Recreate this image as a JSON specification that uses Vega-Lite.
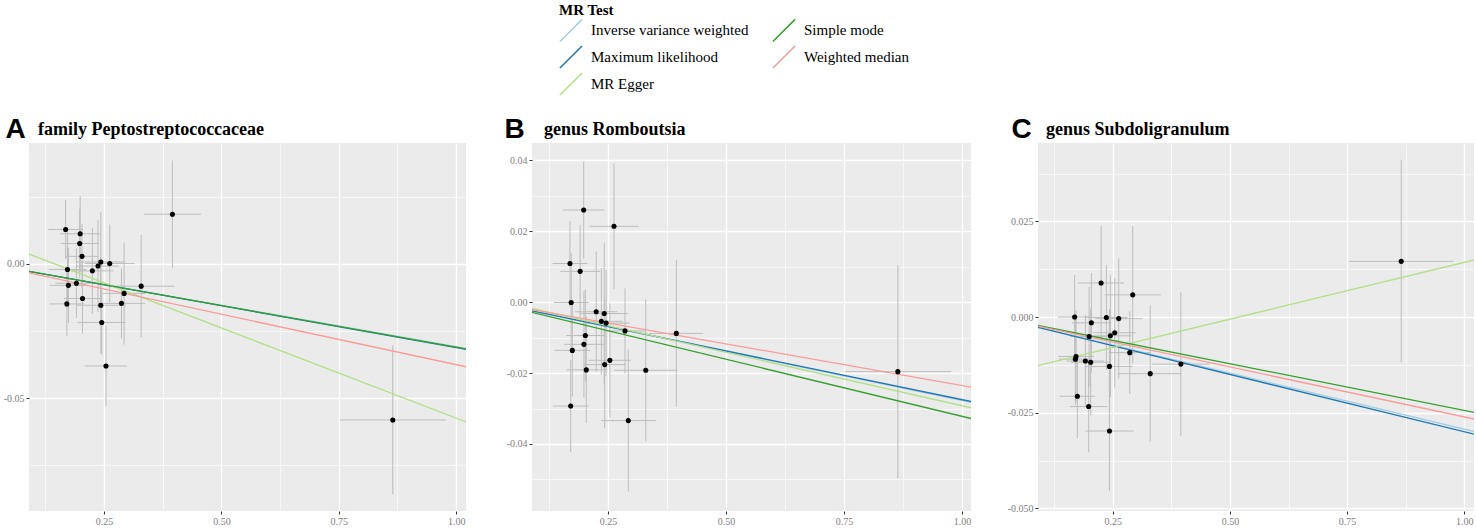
{
  "$schema": "https://vega.github.io/schema/vega-lite/v6.json",
  "padding": {"left": 3, "top": 3, "right": 0, "bottom": 0},
  "spacing": 38,
  "datasets": {
    "a_pts": [
      {"x": 0.168, "y": 0.0128, "xlo": 0.131, "xhi": 0.205, "ylo": 0.0018, "yhi": 0.0238},
      {"x": 0.199, "y": 0.0112, "xlo": 0.156, "xhi": 0.242, "ylo": -0.0028, "yhi": 0.0252},
      {"x": 0.198, "y": 0.0076, "xlo": 0.158, "xhi": 0.238, "ylo": -0.0054, "yhi": 0.0206},
      {"x": 0.203, "y": 0.0028, "xlo": 0.168, "xhi": 0.238, "ylo": -0.0092, "yhi": 0.0148},
      {"x": 0.243, "y": 0.0007, "xlo": 0.191, "xhi": 0.295, "ylo": -0.0179, "yhi": 0.0193},
      {"x": 0.237, "y": -0.0008, "xlo": 0.192, "xhi": 0.282, "ylo": -0.0178, "yhi": 0.0162},
      {"x": 0.262, "y": 0.0001, "xlo": 0.209, "xhi": 0.315, "ylo": -0.0144, "yhi": 0.0146},
      {"x": 0.225, "y": -0.0026, "xlo": 0.18, "xhi": 0.27, "ylo": -0.0186, "yhi": 0.0134},
      {"x": 0.172, "y": -0.0021, "xlo": 0.132, "xhi": 0.212, "ylo": -0.0161, "yhi": 0.0119},
      {"x": 0.174, "y": -0.008, "xlo": 0.134, "xhi": 0.214, "ylo": -0.022, "yhi": 0.006},
      {"x": 0.191, "y": -0.0072, "xlo": 0.146, "xhi": 0.236, "ylo": -0.0202, "yhi": 0.0058},
      {"x": 0.204, "y": -0.0129, "xlo": 0.164, "xhi": 0.244, "ylo": -0.0259, "yhi": 0.0001},
      {"x": 0.1706, "y": -0.0149, "xlo": 0.1336, "xhi": 0.2076, "ylo": -0.0269, "yhi": -0.0029},
      {"x": 0.243, "y": -0.0154, "xlo": 0.19, "xhi": 0.296, "ylo": -0.0334, "yhi": 0.0026},
      {"x": 0.287, "y": -0.0147, "xlo": 0.237, "xhi": 0.337, "ylo": -0.0277, "yhi": -0.0017},
      {"x": 0.2926, "y": -0.011, "xlo": 0.2476, "xhi": 0.3376, "ylo": -0.03, "yhi": 0.008},
      {"x": 0.329, "y": -0.0083, "xlo": 0.258, "xhi": 0.4, "ylo": -0.0273, "yhi": 0.0107},
      {"x": 0.245, "y": -0.0218, "xlo": 0.194, "xhi": 0.296, "ylo": -0.0338, "yhi": -0.0098},
      {"x": 0.254, "y": -0.038, "xlo": 0.209, "xhi": 0.299, "ylo": -0.053, "yhi": -0.023},
      {"x": 0.3955, "y": 0.0185, "xlo": 0.3345, "xhi": 0.4565, "ylo": -0.0015, "yhi": 0.0385},
      {"x": 0.865, "y": -0.0581, "xlo": 0.752, "xhi": 0.978, "ylo": -0.0858, "yhi": -0.0304}
    ],
    "b_pts": [
      {"x": 0.1985, "y": 0.026, "xlo": 0.1545, "xhi": 0.2425, "ylo": 0.0123, "yhi": 0.0397},
      {"x": 0.2627, "y": 0.0214, "xlo": 0.2107, "xhi": 0.3147, "ylo": 0.0037, "yhi": 0.0391},
      {"x": 0.1695, "y": 0.0109, "xlo": 0.1325, "xhi": 0.2065, "ylo": -0.0011, "yhi": 0.0229},
      {"x": 0.191, "y": 0.0087, "xlo": 0.149, "xhi": 0.233, "ylo": -0.0043, "yhi": 0.0217},
      {"x": 0.172, "y": -0.0001, "xlo": 0.135, "xhi": 0.209, "ylo": -0.0141, "yhi": 0.0139},
      {"x": 0.225, "y": -0.0027, "xlo": 0.18, "xhi": 0.27, "ylo": -0.0197, "yhi": 0.0143},
      {"x": 0.242, "y": -0.0032, "xlo": 0.192, "xhi": 0.292, "ylo": -0.0232, "yhi": 0.0168},
      {"x": 0.236, "y": -0.0054, "xlo": 0.191, "xhi": 0.281, "ylo": -0.0204, "yhi": 0.0096},
      {"x": 0.246, "y": -0.0059, "xlo": 0.196, "xhi": 0.296, "ylo": -0.0209, "yhi": 0.0091},
      {"x": 0.286, "y": -0.0081, "xlo": 0.241, "xhi": 0.331, "ylo": -0.0201, "yhi": 0.0039},
      {"x": 0.3947, "y": -0.0088, "xlo": 0.3377, "xhi": 0.4517, "ylo": -0.0295, "yhi": 0.0119},
      {"x": 0.202, "y": -0.0094, "xlo": 0.162, "xhi": 0.242, "ylo": -0.0224, "yhi": 0.0036},
      {"x": 0.199, "y": -0.0119, "xlo": 0.157, "xhi": 0.241, "ylo": -0.0269, "yhi": 0.0031},
      {"x": 0.1744, "y": -0.0136, "xlo": 0.1364, "xhi": 0.2124, "ylo": -0.0266, "yhi": -0.0006},
      {"x": 0.254, "y": -0.0164, "xlo": 0.209, "xhi": 0.299, "ylo": -0.0324, "yhi": -0.0004},
      {"x": 0.243, "y": -0.0176, "xlo": 0.198, "xhi": 0.288, "ylo": -0.0356, "yhi": 0.0004},
      {"x": 0.204, "y": -0.0191, "xlo": 0.162, "xhi": 0.246, "ylo": -0.0341, "yhi": -0.0041},
      {"x": 0.33, "y": -0.0192, "xlo": 0.263, "xhi": 0.397, "ylo": -0.0392, "yhi": 0.0008},
      {"x": 0.171, "y": -0.0293, "xlo": 0.133, "xhi": 0.209, "ylo": -0.0423, "yhi": -0.0163},
      {"x": 0.293, "y": -0.0334, "xlo": 0.235, "xhi": 0.351, "ylo": -0.0534, "yhi": -0.0134},
      {"x": 0.864, "y": -0.0196, "xlo": 0.751, "xhi": 0.977, "ylo": -0.0496, "yhi": 0.0104}
    ],
    "c_pts": [
      {"x": 0.2252, "y": 0.0089, "xlo": 0.1762, "xhi": 0.2742, "ylo": -0.0061, "yhi": 0.0239},
      {"x": 0.2927, "y": 0.0058, "xlo": 0.2327, "xhi": 0.3527, "ylo": -0.0122, "yhi": 0.0238},
      {"x": 0.1688, "y": 0.0, "xlo": 0.1328, "xhi": 0.2048, "ylo": -0.011, "yhi": 0.011},
      {"x": 0.2365, "y": -0.0001, "xlo": 0.1915, "xhi": 0.2815, "ylo": -0.0138, "yhi": 0.0136},
      {"x": 0.2628, "y": -0.0004, "xlo": 0.2128, "xhi": 0.3128, "ylo": -0.0161, "yhi": 0.0153},
      {"x": 0.2045, "y": -0.0015, "xlo": 0.1625, "xhi": 0.2465, "ylo": -0.0145, "yhi": 0.0115},
      {"x": 0.2543, "y": -0.0041, "xlo": 0.2093, "xhi": 0.2993, "ylo": -0.0184, "yhi": 0.0102},
      {"x": 0.245, "y": -0.0049, "xlo": 0.2, "xhi": 0.29, "ylo": -0.0209, "yhi": 0.0111},
      {"x": 0.1996, "y": -0.0051, "xlo": 0.1596, "xhi": 0.2396, "ylo": -0.0181, "yhi": 0.0079},
      {"x": 0.2863, "y": -0.0093, "xlo": 0.2413, "xhi": 0.3313, "ylo": -0.0201, "yhi": 0.0015},
      {"x": 0.1718, "y": -0.0103, "xlo": 0.1338, "xhi": 0.2098, "ylo": -0.0223, "yhi": 0.0017},
      {"x": 0.1703, "y": -0.011, "xlo": 0.1353, "xhi": 0.2053, "ylo": -0.023, "yhi": 0.001},
      {"x": 0.1917, "y": -0.0115, "xlo": 0.1517, "xhi": 0.2317, "ylo": -0.0235, "yhi": 0.0005},
      {"x": 0.203, "y": -0.0118, "xlo": 0.161, "xhi": 0.245, "ylo": -0.0258, "yhi": 0.0022},
      {"x": 0.3953, "y": -0.0123, "xlo": 0.3343, "xhi": 0.4563, "ylo": -0.0311, "yhi": 0.0065},
      {"x": 0.243, "y": -0.0129, "xlo": 0.193, "xhi": 0.293, "ylo": -0.0279, "yhi": 0.0021},
      {"x": 0.33, "y": -0.0148, "xlo": 0.263, "xhi": 0.397, "ylo": -0.0326, "yhi": 0.003},
      {"x": 0.1746, "y": -0.0207, "xlo": 0.1366, "xhi": 0.2126, "ylo": -0.0317, "yhi": -0.0097},
      {"x": 0.1987, "y": -0.0234, "xlo": 0.1587, "xhi": 0.2387, "ylo": -0.0354, "yhi": -0.0114},
      {"x": 0.243, "y": -0.0298, "xlo": 0.191, "xhi": 0.295, "ylo": -0.0454, "yhi": -0.0142},
      {"x": 0.8654, "y": 0.01456, "xlo": 0.7534, "xhi": 0.9774, "ylo": -0.0119, "yhi": 0.0411}
    ],
    "lines": [
      {"panel": "A", "method": "Inverse variance weighted", "x": 0, "y": 0},
      {"panel": "A", "method": "Inverse variance weighted", "x": 1.1, "y": -0.03388},
      {"panel": "A", "method": "Maximum likelihood", "x": 0, "y": 0},
      {"panel": "A", "method": "Maximum likelihood", "x": 1.1, "y": -0.03432},
      {"panel": "A", "method": "MR Egger", "x": 0, "y": 0.0097},
      {"panel": "A", "method": "MR Egger", "x": 1.1, "y": -0.06411},
      {"panel": "A", "method": "Simple mode", "x": 0, "y": 0},
      {"panel": "A", "method": "Simple mode", "x": 1.1, "y": -0.0341},
      {"panel": "A", "method": "Weighted median", "x": 0, "y": 0},
      {"panel": "A", "method": "Weighted median", "x": 1.1, "y": -0.04125},
      {"panel": "B", "method": "Inverse variance weighted", "x": 0, "y": 0},
      {"panel": "B", "method": "Inverse variance weighted", "x": 1.1, "y": -0.03047},
      {"panel": "B", "method": "Maximum likelihood", "x": 0, "y": 0},
      {"panel": "B", "method": "Maximum likelihood", "x": 1.1, "y": -0.03025},
      {"panel": "B", "method": "MR Egger", "x": 0, "y": 0.0009},
      {"panel": "B", "method": "MR Egger", "x": 1.1, "y": -0.03221},
      {"panel": "B", "method": "Simple mode", "x": 0, "y": 0},
      {"panel": "B", "method": "Simple mode", "x": 1.1, "y": -0.03542},
      {"panel": "B", "method": "Weighted median", "x": 0, "y": 0},
      {"panel": "B", "method": "Weighted median", "x": 1.1, "y": -0.02585},
      {"panel": "C", "method": "Inverse variance weighted", "x": 0, "y": 0},
      {"panel": "C", "method": "Inverse variance weighted", "x": 1.1, "y": -0.03223},
      {"panel": "C", "method": "Maximum likelihood", "x": 0, "y": 0},
      {"panel": "C", "method": "Maximum likelihood", "x": 1.1, "y": -0.033},
      {"panel": "C", "method": "MR Egger", "x": 0, "y": -0.0154},
      {"panel": "C", "method": "MR Egger", "x": 1.1, "y": 0.01727},
      {"panel": "C", "method": "Simple mode", "x": 0, "y": 0},
      {"panel": "C", "method": "Simple mode", "x": 1.1, "y": -0.02684},
      {"panel": "C", "method": "Weighted median", "x": 0, "y": 0},
      {"panel": "C", "method": "Weighted median", "x": 1.1, "y": -0.02871}
    ]
  },
  "hconcat": [
    {
      "width": 437,
      "height": 368,
      "title": {"text": "family Peptostreptococcaceae", "dx": 9, "dy": 28},
      "layer": [
        {
          "data": {"name": "a_pts"},
          "mark": {"type": "rule", "color": "#bdbdbd", "strokeWidth": 1},
          "encoding": {
            "x": {
              "field": "xlo", "type": "quantitative", "scale": {"domain": [0.09, 1.021], "nice": false},
              "axis": {
                "values": [0.125, 0.25, 0.375, 0.5, 0.625, 0.75, 0.875, 1],
                "gridWidth": {"condition": {"test": "round(datum.value*8)%2==0", "value": 1.3}, "value": 0.6},
                "tickOpacity": {"condition": {"test": "round(datum.value*8)%2==0", "value": 1}, "value": 0},
                "labelExpr": "round(datum.value*8)%2==0 ? format(datum.value, '.2f') : ''",
                "title": null
              }
            },
            "x2": {"field": "xhi"},
            "y": {
              "field": "y", "type": "quantitative", "scale": {"domain": [-0.092, 0.045], "nice": false},
              "axis": {
                "values": [0.025, 0, -0.025, -0.05, -0.075],
                "gridWidth": {"condition": {"test": "round(datum.value*40)%2==0", "value": 1.3}, "value": 0.6},
                "tickOpacity": {"condition": {"test": "round(datum.value*40)%2==0", "value": 1}, "value": 0},
                "labelExpr": "round(datum.value*40)%2==0 ? (datum.value < 0 ? '-' : '') + format(abs(datum.value), '.2f') : ''",
                "title": "A", "titleX": -24, "titleY": -6
              }
            }
          }
        },
        {
          "data": {"name": "a_pts"},
          "mark": {"type": "rule", "color": "#bdbdbd", "strokeWidth": 1},
          "encoding": {
            "x": {"field": "x", "type": "quantitative", "scale": {"domain": [0.09, 1.021], "nice": false}},
            "y": {"field": "ylo", "type": "quantitative", "scale": {"domain": [-0.092, 0.045], "nice": false}},
            "y2": {"field": "yhi"}
          }
        },
        {
          "data": {"name": "lines"},
          "transform": [{"filter": "datum.panel == 'A'"}],
          "mark": {"type": "line", "strokeWidth": 1.3, "clip": true},
          "encoding": {
            "x": {"field": "x", "type": "quantitative", "scale": {"domain": [0.09, 1.021], "nice": false}},
            "y": {"field": "y", "type": "quantitative", "scale": {"domain": [-0.092, 0.045], "nice": false}},
            "color": {
              "field": "method", "type": "nominal",
              "scale": {"domain": ["Inverse variance weighted", "Maximum likelihood", "MR Egger", "Simple mode", "Weighted median"], "range": ["#a6cee3", "#1f78b4", "#b2df8a", "#33a02c", "#fb9a99"]},
              "legend": {"title": "MR Test", "orient": "none", "legendX": 530, "legendY": -140, "columns": 2}
            }
          }
        },
        {
          "data": {"name": "a_pts"},
          "mark": {"type": "circle", "size": 26, "color": "black", "opacity": 1},
          "encoding": {
            "x": {"field": "x", "type": "quantitative", "scale": {"domain": [0.09, 1.021], "nice": false}},
            "y": {"field": "y", "type": "quantitative", "scale": {"domain": [-0.092, 0.045], "nice": false}}
          }
        }
      ]
    },
    {
      "spacing": 36,
      "hconcat": [
        {
          "width": 439,
          "height": 368,
          "title": {"text": "genus Romboutsia", "dx": 12, "dy": 28},
          "layer": [
            {
              "data": {"name": "b_pts"},
              "mark": {"type": "rule", "color": "#bdbdbd", "strokeWidth": 1},
              "encoding": {
                "x": {
                  "field": "xlo", "type": "quantitative", "scale": {"domain": [0.089, 1.019], "nice": false},
                  "axis": {
                    "values": [0.125, 0.25, 0.375, 0.5, 0.625, 0.75, 0.875, 1],
                    "gridWidth": {"condition": {"test": "round(datum.value*8)%2==0", "value": 1.3}, "value": 0.6},
                    "tickOpacity": {"condition": {"test": "round(datum.value*8)%2==0", "value": 1}, "value": 0},
                    "labelExpr": "round(datum.value*8)%2==0 ? format(datum.value, '.2f') : ''",
                    "title": null
                  }
                },
                "x2": {"field": "xhi"},
                "y": {
                  "field": "y", "type": "quantitative", "scale": {"domain": [-0.0589, 0.0449], "nice": false},
                  "axis": {
                    "values": [0.04, 0.03, 0.02, 0.01, 0, -0.01, -0.02, -0.03, -0.04, -0.05],
                    "gridWidth": {"condition": {"test": "round(datum.value*100)%2==0", "value": 1.3}, "value": 0.6},
                    "tickOpacity": {"condition": {"test": "round(datum.value*100)%2==0", "value": 1}, "value": 0},
                    "labelExpr": "round(datum.value*100)%2==0 ? (datum.value < 0 ? '-' : '') + format(abs(datum.value), '.2f') : ''",
                    "title": "B", "titleX": -28, "titleY": -6
                  }
                }
              }
            },
            {
              "data": {"name": "b_pts"},
              "mark": {"type": "rule", "color": "#bdbdbd", "strokeWidth": 1},
              "encoding": {
                "x": {"field": "x", "type": "quantitative", "scale": {"domain": [0.089, 1.019], "nice": false}},
                "y": {"field": "ylo", "type": "quantitative", "scale": {"domain": [-0.0589, 0.0449], "nice": false}},
                "y2": {"field": "yhi"}
              }
            },
            {
              "data": {"name": "lines"},
              "transform": [{"filter": "datum.panel == 'B'"}],
              "mark": {"type": "line", "strokeWidth": 1.3, "clip": true},
              "encoding": {
                "x": {"field": "x", "type": "quantitative", "scale": {"domain": [0.089, 1.019], "nice": false}},
                "y": {"field": "y", "type": "quantitative", "scale": {"domain": [-0.0589, 0.0449], "nice": false}},
                "color": {
                  "field": "method", "type": "nominal",
                  "scale": {"domain": ["Inverse variance weighted", "Maximum likelihood", "MR Egger", "Simple mode", "Weighted median"], "range": ["#a6cee3", "#1f78b4", "#b2df8a", "#33a02c", "#fb9a99"]},
                  "legend": {"title": "MR Test", "orient": "none", "legendX": 530, "legendY": -140, "columns": 2}
                }
              }
            },
            {
              "data": {"name": "b_pts"},
              "mark": {"type": "circle", "size": 26, "color": "black", "opacity": 1},
              "encoding": {
                "x": {"field": "x", "type": "quantitative", "scale": {"domain": [0.089, 1.019], "nice": false}},
                "y": {"field": "y", "type": "quantitative", "scale": {"domain": [-0.0589, 0.0449], "nice": false}}
              }
            }
          ]
        },
        {
          "width": 436,
          "height": 368,
          "title": {"text": "genus Subdoligranulum", "dx": 8, "dy": 28},
          "layer": [
            {
              "data": {"name": "c_pts"},
              "mark": {"type": "rule", "color": "#bdbdbd", "strokeWidth": 1},
              "encoding": {
                "x": {
                  "field": "xlo", "type": "quantitative", "scale": {"domain": [0.0906, 1.0207], "nice": false},
                  "axis": {
                    "values": [0.125, 0.25, 0.375, 0.5, 0.625, 0.75, 0.875, 1],
                    "gridWidth": {"condition": {"test": "round(datum.value*8)%2==0", "value": 1.3}, "value": 0.6},
                    "tickOpacity": {"condition": {"test": "round(datum.value*8)%2==0", "value": 1}, "value": 0},
                    "labelExpr": "round(datum.value*8)%2==0 ? format(datum.value, '.2f') : ''",
                    "title": null
                  }
                },
                "x2": {"field": "xhi"},
                "y": {
                  "field": "y", "type": "quantitative", "scale": {"domain": [-0.0507, 0.0455], "nice": false},
                  "axis": {
                    "values": [0.0375, 0.025, 0.0125, 0, -0.0125, -0.025, -0.0375, -0.05],
                    "gridWidth": {"condition": {"test": "round(datum.value*80)%2==0", "value": 1.3}, "value": 0.6},
                    "tickOpacity": {"condition": {"test": "round(datum.value*80)%2==0", "value": 1}, "value": 0},
                    "labelExpr": "round(datum.value*80)%2==0 ? (datum.value < 0 ? '-' : '') + format(abs(datum.value), '.3f') : ''",
                    "title": "C", "titleX": -27, "titleY": -6
                  }
                }
              }
            },
            {
              "data": {"name": "c_pts"},
              "mark": {"type": "rule", "color": "#bdbdbd", "strokeWidth": 1},
              "encoding": {
                "x": {"field": "x", "type": "quantitative", "scale": {"domain": [0.0906, 1.0207], "nice": false}},
                "y": {"field": "ylo", "type": "quantitative", "scale": {"domain": [-0.0507, 0.0455], "nice": false}},
                "y2": {"field": "yhi"}
              }
            },
            {
              "data": {"name": "lines"},
              "transform": [{"filter": "datum.panel == 'C'"}],
              "mark": {"type": "line", "strokeWidth": 1.3, "clip": true},
              "encoding": {
                "x": {"field": "x", "type": "quantitative", "scale": {"domain": [0.0906, 1.0207], "nice": false}},
                "y": {"field": "y", "type": "quantitative", "scale": {"domain": [-0.0507, 0.0455], "nice": false}},
                "color": {
                  "field": "method", "type": "nominal",
                  "scale": {"domain": ["Inverse variance weighted", "Maximum likelihood", "MR Egger", "Simple mode", "Weighted median"], "range": ["#a6cee3", "#1f78b4", "#b2df8a", "#33a02c", "#fb9a99"]},
                  "legend": {"title": "MR Test", "orient": "none", "legendX": 530, "legendY": -140, "columns": 2}
                }
              }
            },
            {
              "data": {"name": "c_pts"},
              "mark": {"type": "circle", "size": 26, "color": "black", "opacity": 1},
              "encoding": {
                "x": {"field": "x", "type": "quantitative", "scale": {"domain": [0.0906, 1.0207], "nice": false}},
                "y": {"field": "y", "type": "quantitative", "scale": {"domain": [-0.0507, 0.0455], "nice": false}}
              }
            }
          ]
        }
      ]
    }
  ],
  "config": {
    "view": {"fill": "#EBEBEB", "stroke": null},
    "axis": {
      "grid": true,
      "gridColor": "#FFFFFF",
      "domain": false,
      "tickColor": "#333333",
      "tickSize": 3,
      "labelFont": "Liberation Serif",
      "labelFontSize": 10,
      "labelColor": "#808080",
      "labelPadding": 2,
      "labelOverlap": false,
      "titleFont": "Liberation Sans",
      "titleFontSize": 28,
      "titleFontWeight": "bold",
      "titleColor": "#000000",
      "titleAngle": 0,
      "titleAlign": "left",
      "titleBaseline": "alphabetic"
    },
    "title": {"font": "Liberation Serif", "fontSize": 18, "fontWeight": "bold", "anchor": "start", "frame": "group", "color": "#000000"},
    "legend": {
      "titleFont": "Liberation Serif",
      "titleFontSize": 15,
      "titleFontWeight": "bold",
      "titleColor": "#000000",
      "titlePadding": 0,
      "labelFont": "Liberation Serif",
      "labelFontSize": 15,
      "labelColor": "#000000",
      "labelOffset": 8,
      "labelLimit": 300,
      "symbolType": "M-1,1L1,-1",
      "symbolSize": 490,
      "symbolStrokeWidth": 1.5,
      "columnPadding": 20,
      "rowPadding": -3
    }
  }
}
